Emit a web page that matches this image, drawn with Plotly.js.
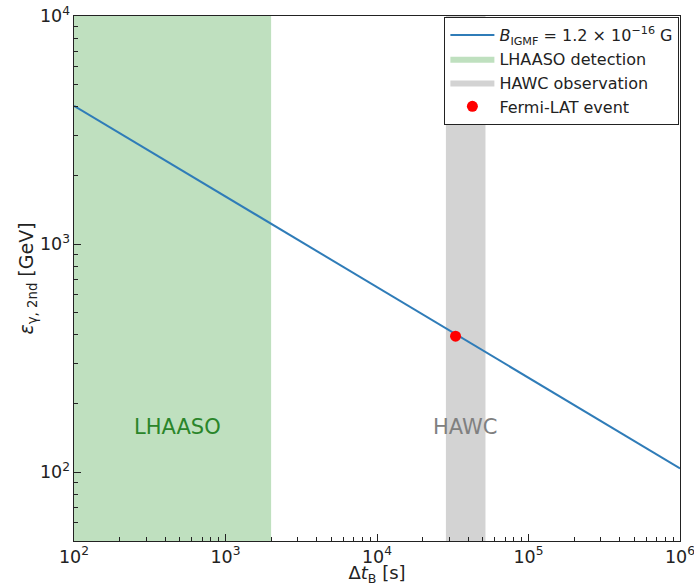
<!DOCTYPE html>
<html>
<head>
<meta charset="utf-8">
<script src="https://cdn.plot.ly/plotly-3.0.1.min.js"></script>
<style>html,body{margin:0;padding:0;background:#fff;}#chart{width:694px;height:586px;}</style>
</head>
<body>
<div id="chart"></div>
<script>
// Data
const lineDt = [1e2, 1e6];           // Δt_B [s]
const lineEps = [4040, 104];         // ε_γ,2nd [GeV]
const lhaasoDt = [100, 2000];        // LHAASO detection window [s]
const hawcDt = [28500, 52000];       // HAWC observation window [s]
const bandEps = [50, 10000];         // vertical extent of bands [GeV]
const fermiDt = [33000];
const fermiEps = [395];
const labels = ["LHAASO", "HAWC"];
const labelDt = [480, 38000];
const labelEps = [158, 158];

const font = "DejaVu Sans, sans-serif";

function band(xr, name, color, rank) {
  return {
    x: [xr[0], xr[1], xr[1], xr[0], xr[0]],
    y: [bandEps[0], bandEps[0], bandEps[1], bandEps[1], bandEps[0]],
    type: "scatter", mode: "lines", fill: "toself",
    fillcolor: color, line: {width: 0, color: color},
    name: name, legendrank: rank, hoverinfo: "skip"
  };
}

const traces = [
  band(lhaasoDt, "LHAASO detection", "rgba(191,224,191,1)", 2),
  band(hawcDt, "HAWC observation", "rgba(211,211,211,1)", 3),
  {
    x: lineDt, y: lineEps, type: "scatter", mode: "lines",
    line: {color: "#2f7cb8", width: 2},
    name: "<i>B</i><sub>IGMF</sub> = 1.2 × 10<sup>−16</sup> G", legendrank: 1
  },
  {
    x: fermiDt, y: fermiEps, type: "scatter", mode: "markers",
    marker: {color: "#ff0000", size: 11},
    name: "Fermi-LAT event", legendrank: 4
  }
];

const layout = {
  width: 694, height: 586,
  margin: {l: 74, r: 14, t: 16, b: 45},
  paper_bgcolor: "#fff", plot_bgcolor: "#fff",
  font: {family: font, color: "#222", size: 14},
  showlegend: true,
  legend: {
    x: 0.999, xanchor: "right", y: 0.998, yanchor: "top",
    bgcolor: "#fff", bordercolor: "#222", borderwidth: 1,
    font: {family: font, size: 16, color: "#222"},
    tracegroupgap: 0, itemwidth: 44
  },
  xaxis: {
    type: "log", range: [2, 6], dtick: 1, exponentformat: "power",
    showgrid: false, zeroline: false,
    showline: true, linecolor: "#222", linewidth: 1.2, mirror: true,
    ticks: "inside", ticklen: 7, tickcolor: "#222",
    ticklabeloverflow: "allow",
    minor: {ticks: "inside", ticklen: 4, tickcolor: "#222", showgrid: false},
    tickfont: {family: font, size: 14, color: "#222"},
    title: {text: "Δ<i>t</i><sub>B</sub> [s]", font: {family: font, size: 18, color: "#222"}, standoff: 4}
  },
  yaxis: {
    type: "log", range: [Math.log10(50), 4], dtick: 1, exponentformat: "power",
    showgrid: false, zeroline: false,
    showline: true, linecolor: "#222", linewidth: 1.2, mirror: true,
    ticks: "inside", ticklen: 7, tickcolor: "#222",
    ticklabeloverflow: "allow",
    minor: {ticks: "inside", ticklen: 4, tickcolor: "#222", showgrid: false},
    tickfont: {family: font, size: 14, color: "#222"},
    title: {text: "<i>ε</i><sub>γ, 2nd</sub> [GeV]", font: {family: font, size: 19, color: "#222"}, standoff: 0}
  },
  annotations: labels.map((t, i) => ({
    x: Math.log10(labelDt[i]), y: Math.log10(labelEps[i]), xref: "x", yref: "y",
    text: t, showarrow: false,
    font: {family: font, size: 21, color: i === 0 ? "#2a852a" : "#808080"}
  }))
};

Plotly.newPlot("chart", traces, layout, {displayModeBar: false, staticPlot: true});
</script>
</body>
</html>
